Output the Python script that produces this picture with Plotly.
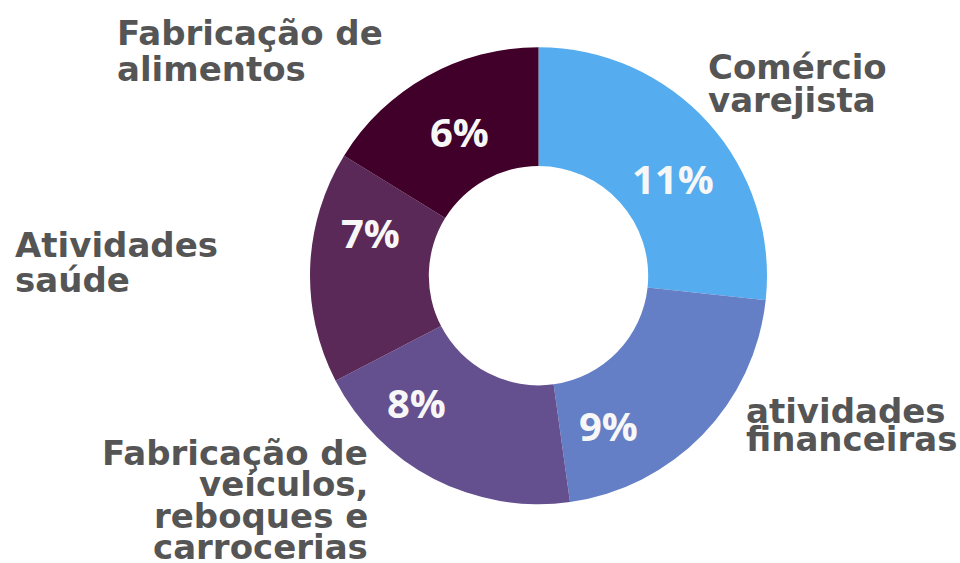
import plotly.graph_objects as go

# Data
categories = ["Comércio varejista", "atividades financeiras",
              "Fabricação de veículos, reboques e carrocerias",
              "Atividades saúde", "Fabricação de alimentos"]
pct_labels = ["11%", "9%", "8%", "7%", "6%"]
slice_share = [26.7, 21.1, 19.6, 16.4, 16.2]   # angular share of each slice as read from the ring
colors = ["#55ACEE", "#647FC5", "#65508F", "#5A2958", "#410029"]

W, H = 960, 563
fig = go.Figure()
fig.add_trace(go.Pie(
    labels=categories, values=slice_share, sort=False, direction="clockwise",
    rotation=0, hole=0.48, textinfo="none", showlegend=False, hoverinfo="skip",
    marker=dict(colors=colors, line=dict(width=0)),
    domain=dict(x=[310/W, 767/W], y=[1-504.2/H, 1-47.2/H]),
))

def px(x, y):
    return x / W, 1 - y / H

LFS = 34
label_font = dict(family="DejaVu Sans", size=LFS, color="#555555", weight="bold")
pct_font = dict(family="Open Sans", size=40, color="#F7F7F7", weight="bold")

# outside category labels, one annotation per line (tight leading); values are baselines
outside = [
    (["Comércio", "varejista"], 706, [79, 112], "left"),
    (["atividades", "financeiras"], 744, [423, 451], "left"),
    (["Atividades", "saúde"], 13, [257, 292], "left"),
    (["Fabricação de", "alimentos"], 115, [45, 81], "left"),
    (["Fabricação de", "veículos,", "reboques e", "carrocerias"], 370, [465, 496, 528, 559], "right"),
]
for lines, x, ys, anchor in outside:
    for line, y in zip(lines, ys):
        ax, ay = px(x, y - 0.35 * LFS)
        fig.add_annotation(x=ax, y=ay, xref="paper", yref="paper", text=line,
                           showarrow=False, xanchor=anchor, yanchor="middle",
                           font=label_font)

# percentage labels inside the ring
pct_pos = [(673, 180), (608, 427), (416, 404), (370, 235), (459, 133)]
for lab, (x, y) in zip(pct_labels, pct_pos):
    ax, ay = px(x, y - 2)
    fig.add_annotation(x=ax, y=ay, xref="paper", yref="paper", text=lab,
                       showarrow=False, xanchor="center", yanchor="middle",
                       font=pct_font)

fig.update_layout(width=W, height=H, margin=dict(l=0, r=0, t=0, b=0),
                  paper_bgcolor="white", plot_bgcolor="white")
fig.write_html("out.html", config={"displayModeBar": False},
               post_script="document.body.style.margin='0';")
